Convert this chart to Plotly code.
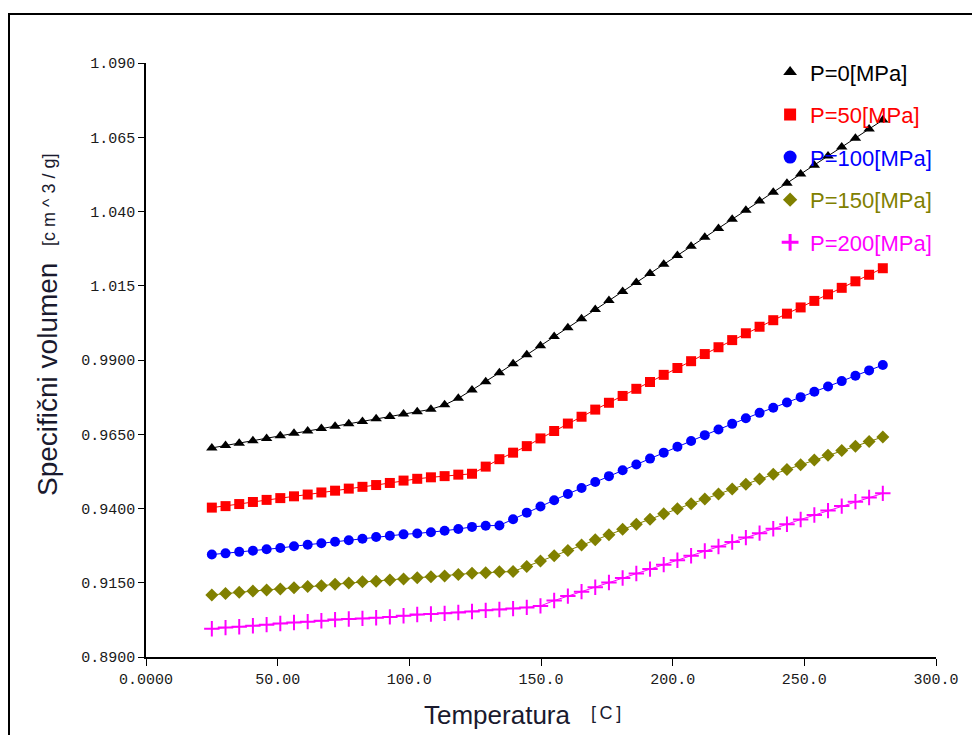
import plotly.graph_objects as go

# { data
temperatura = [25.0, 30.2, 35.4, 40.6, 45.8, 51.0, 56.2, 61.4, 66.6, 71.8,
               77.0, 82.2, 87.4, 92.6, 97.8, 103.0, 108.2, 113.4, 118.6, 123.8,
               129.0, 134.2, 139.4, 144.6, 149.8, 155.0, 160.2, 165.4, 170.6, 175.8,
               181.0, 186.2, 191.4, 196.6, 201.8, 207.0, 212.2, 217.4, 222.6, 227.8,
               233.0, 238.2, 243.4, 248.6, 253.8, 259.0, 264.2, 269.4, 274.6, 279.8]

p0 = [0.9604, 0.9612, 0.9620, 0.9628, 0.9636, 0.9645, 0.9653, 0.9661, 0.9669, 0.9677,
      0.9685, 0.9693, 0.9702, 0.9710, 0.9718, 0.9726, 0.9734, 0.9749, 0.9771, 0.9799,
      0.9827, 0.9857, 0.9887, 0.9918, 0.9948, 0.9979, 1.0009, 1.0039, 1.0070, 1.0100,
      1.0131, 1.0161, 1.0191, 1.0222, 1.0252, 1.0283, 1.0313, 1.0343, 1.0374, 1.0404,
      1.0435, 1.0465, 1.0495, 1.0526, 1.0556, 1.0587, 1.0617, 1.0647, 1.0678, 1.0708]

p50 = [0.9403, 0.9408, 0.9415, 0.9422, 0.9429, 0.9435, 0.9441, 0.9447, 0.9454, 0.9460,
       0.9467, 0.9473, 0.9479, 0.9486, 0.9494, 0.9500, 0.9505, 0.9509, 0.9514, 0.9517,
       0.9541, 0.9566, 0.9588, 0.9610, 0.9636, 0.9661, 0.9686, 0.9709, 0.9733, 0.9756,
       0.9779, 0.9803, 0.9826, 0.9850, 0.9873, 0.9896, 0.9920, 0.9943, 0.9967, 0.9990,
       1.0012, 1.0034, 1.0056, 1.0077, 1.0099, 1.0121, 1.0143, 1.0165, 1.0187, 1.0209]

p100 = [0.9245, 0.9249, 0.9254, 0.9258, 0.9263, 0.9267, 0.9273, 0.9278, 0.9283, 0.9288,
        0.9293, 0.9298, 0.9304, 0.9308, 0.9313, 0.9316, 0.9320, 0.9325, 0.9331, 0.9338,
        0.9342, 0.9343, 0.9364, 0.9386, 0.9407, 0.9428, 0.9449, 0.9469, 0.9489, 0.9509,
        0.9529, 0.9548, 0.9568, 0.9588, 0.9608, 0.9627, 0.9647, 0.9666, 0.9685, 0.9704,
        0.9722, 0.9739, 0.9757, 0.9775, 0.9793, 0.9811, 0.9829, 0.9847, 0.9865, 0.9883]

p150 = [0.9109, 0.9114, 0.9118, 0.9122, 0.9126, 0.9129, 0.9133, 0.9137, 0.9140, 0.9145,
        0.9149, 0.9153, 0.9155, 0.9159, 0.9163, 0.9167, 0.9170, 0.9173, 0.9178, 0.9182,
        0.9184, 0.9187, 0.9188, 0.9205, 0.9223, 0.9241, 0.9259, 0.9277, 0.9295, 0.9312,
        0.9330, 0.9347, 0.9364, 0.9382, 0.9399, 0.9416, 0.9432, 0.9449, 0.9466, 0.9482,
        0.9499, 0.9515, 0.9531, 0.9547, 0.9563, 0.9579, 0.9595, 0.9610, 0.9626, 0.9641]

p200 = [0.8995, 0.8999, 0.9002, 0.9005, 0.9009, 0.9013, 0.9016, 0.9019, 0.9022, 0.9026,
        0.9028, 0.9030, 0.9032, 0.9035, 0.9039, 0.9043, 0.9045, 0.9047, 0.9050, 0.9053,
        0.9057, 0.9060, 0.9063, 0.9067, 0.9072, 0.9090, 0.9105, 0.9120, 0.9135, 0.9151,
        0.9166, 0.9181, 0.9196, 0.9211, 0.9226, 0.9241, 0.9257, 0.9272, 0.9287, 0.9302,
        0.9317, 0.9332, 0.9347, 0.9363, 0.9378, 0.9393, 0.9408, 0.9423, 0.9437, 0.9451]

series_names = ['P=0[MPa]', 'P=50[MPa]', 'P=100[MPa]', 'P=150[MPa]', 'P=200[MPa]']

y_ticks = [0.89, 0.915, 0.94, 0.965, 0.99, 1.015, 1.04, 1.065, 1.09]
y_ticktext = ['0.8900', '0.9150', '0.9400', '0.9650', '0.9900', '1.015', '1.040', '1.065', '1.090']
x_ticks = [0, 50, 100, 150, 200, 250, 300]
x_ticktext = ['0.0000', '50.00', '100.0', '150.0', '200.0', '250.0', '300.0']
# }

FONT = 'Liberation Sans, Arial, sans-serif'
MONO = 'Liberation Mono, DejaVu Sans Mono, monospace'
TXT = '#1a1a2e'

styles = [
    dict(color='#000000', symbol='triangle-up', size=10, lsize=12),
    dict(color='#ff0000', symbol='square', size=10, lsize=12),
    dict(color='#0000ff', symbol='circle', size=10, lsize=13),
    dict(color='#808000', symbol='diamond', size=10, lsize=11),
    dict(color='#ff00ff', symbol='cross-thin', size=11, lsize=12),
]


def px(sx):   # screen x -> paper x
    return (sx - 146) / 790


def py(sy):   # screen y -> paper y
    return (657 - sy) / 594


fig = go.Figure()

for i, (name, ys, st) in enumerate(zip(series_names, [p0, p50, p100, p150, p200], styles)):
    marker = dict(symbol=st['symbol'], size=st['size'], color=st['color'])
    if st['symbol'] == 'cross-thin':
        marker['line'] = dict(color=st['color'], width=2)
    fig.add_trace(go.Scatter(
        x=temperatura, y=ys,
        mode='lines+markers',
        line=dict(color=st['color'], width=1),
        marker=marker,
        showlegend=False,
    ))
    # legend entry: marker only, coloured text
    lmarker = dict(symbol=st['symbol'], size=st['lsize'], color=st['color'])
    if st['symbol'] == 'cross-thin':
        lmarker['line'] = dict(color=st['color'], width=3)
    fig.add_trace(go.Scatter(
        x=[None], y=[None], mode='markers', marker=lmarker,
        name=f"<span style='color:{st['color']}'>{name}</span>",
        legendgroup=str(i),
    ))

# the page is drawn 8px in from the window corner, so margins are offset
fig.update_layout(
    width=980, height=735,
    margin=dict(l=138, r=52, t=55, b=86),
    paper_bgcolor='white', plot_bgcolor='white',
    font=dict(family=FONT, size=13, color='#111111'),
    showlegend=True,
    legend=dict(x=0.79, y=1.02, xanchor='left', yanchor='top',
                font=dict(family=FONT, size=22),
                bgcolor='rgba(0,0,0,0)', tracegroupgap=11,
                itemwidth=30, itemsizing='trace'),
    xaxis=dict(range=[0, 300], tickvals=x_ticks, ticktext=x_ticktext,
               showgrid=False, zeroline=False, showline=True,
               linecolor='black', linewidth=1.5, ticks='outside',
               ticklen=7, tickcolor='black',
               tickfont=dict(family=MONO, size=15, color='#1a1a1a')),
    yaxis=dict(range=[0.89, 1.09], tickvals=y_ticks, ticktext=y_ticktext,
               showgrid=False, zeroline=False, showline=True,
               linecolor='black', linewidth=1.5, ticks='outside',
               ticklen=6, tickcolor='black',
               tickfont=dict(family=MONO, size=15, color='#1a1a1a')),
)

# axis titles (two font sizes each)
fig.add_annotation(text='Specifični volumen', xref='paper', yref='paper',
                   x=px(47), y=py(380), xanchor='center', yanchor='middle',
                   textangle=-90, showarrow=False,
                   font=dict(family=FONT, size=28, color=TXT))
fig.add_annotation(text='[c m ^ 3 / g]', xref='paper', yref='paper',
                   x=px(49), y=py(200), xanchor='center', yanchor='middle',
                   textangle=-90, showarrow=False,
                   font=dict(family=FONT, size=18, color=TXT))
fig.add_annotation(text='Temperatura', xref='paper', yref='paper',
                   x=px(497), y=py(715), xanchor='center', yanchor='middle',
                   showarrow=False, font=dict(family=FONT, size=26, color=TXT))
fig.add_annotation(text='[\u2009C\u2009]', xref='paper', yref='paper',
                   x=px(606), y=py(713), xanchor='center', yanchor='middle',
                   showarrow=False, font=dict(family=FONT, size=18, color=TXT))

# outer frame
fig.add_shape(type='rect', xref='paper', yref='paper',
              x0=px(9), x1=px(975), y0=py(760), y1=py(14),
              line=dict(color='black', width=2))

fig.write_html("out.html")
